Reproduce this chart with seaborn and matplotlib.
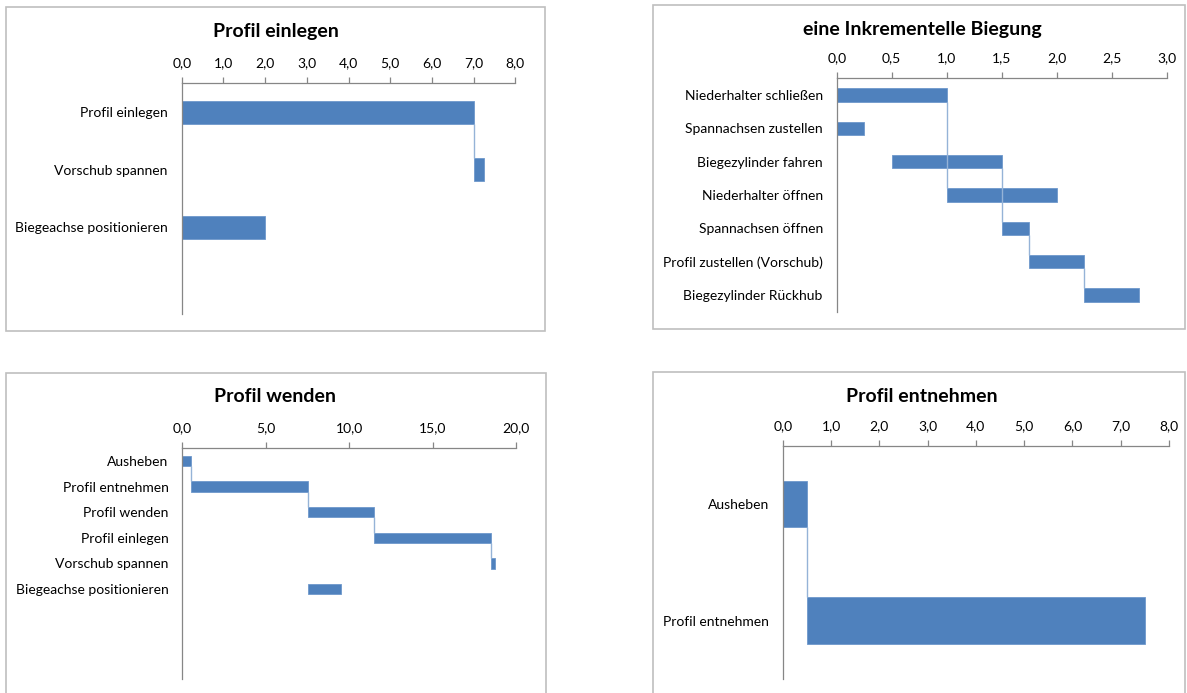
import numpy as np
import pandas as pd
import matplotlib
matplotlib.use("Agg")

import matplotlib.pyplot as plt
from matplotlib.patches import Rectangle
from matplotlib.ticker import MultipleLocator, FuncFormatter
import seaborn as sns

# data: start and duration per task
p1_tasks = ["Profil einlegen", "Vorschub spannen", "Biegeachse positionieren"]
p1_start = [0.0, 7.0, 0.0]
p1_dur = [7.0, 0.25, 2.0]

p2_tasks = ["Niederhalter schließen", "Spannachsen zustellen", "Biegezylinder fahren",
            "Niederhalter öffnen", "Spannachsen öffnen", "Profil zustellen (Vorschub)",
            "Biegezylinder Rückhub"]
p2_start = [0.0, 0.0, 0.5, 1.0, 1.5, 1.75, 2.25]
p2_dur = [1.0, 0.25, 1.0, 1.0, 0.25, 0.5, 0.5]

p3_tasks = ["Ausheben", "Profil entnehmen", "Profil wenden", "Profil einlegen",
            "Vorschub spannen", "Biegeachse positionieren"]
p3_start = [0.0, 0.5, 7.5, 11.5, 18.5, 7.5]
p3_dur = [0.5, 7.0, 4.0, 7.0, 0.25, 2.0]

p4_tasks = ["Ausheben", "Profil entnehmen"]
p4_start = [0.0, 0.5]
p4_dur = [0.5, 7.0]

BAR = "#4F81BD"
LINK = "#95B3D7"
GREY = "#868686"

sns.set_style("white")
plt.rcParams["font.family"] = ["Lato", "DejaVu Sans"]

W, H = 1187, 693
fig = plt.figure(figsize=(W / 100, H / 100), dpi=100)


def px_rect(x0, y0, x1, y1):
    return [x0 / W, 1 - y1 / H, (x1 - x0) / W, (y1 - y0) / H]


def gantt(ax, tasks, start, dur, n_slots, xmax, step):
    df = pd.DataFrame({"task": tasks, "start": start, "dur": dur})
    sns.barplot(data=df, x="dur", y="task", order=tasks, orient="h", width=0.4,
                color=BAR, saturation=1, errorbar=None, ax=ax,
                left=df["start"].to_numpy(), edgecolor="#6E98CC", linewidth=0.6)
    # connector from a task's end to the first later task starting there
    end = df["start"] + df["dur"]
    for j in range(len(df)):
        for i in range(j + 1, len(df)):
            if np.isclose(df["start"][i], end[j]):
                ax.plot([end[j], end[j]], [j + 0.2, i - 0.2], color=LINK,
                        lw=1.0, zorder=5, solid_capstyle="butt")
                break
    ax.set_ylim(n_slots - 0.5, -0.5)
    ax.set_xlim(0, xmax)
    ax.xaxis.set_major_locator(MultipleLocator(step))
    ax.xaxis.set_major_formatter(FuncFormatter(lambda v, p: f"{v:.1f}".replace(".", ",")))
    ax.xaxis.tick_top()
    ax.set_xlabel("")
    ax.set_ylabel("")
    for s in ["right", "bottom"]:
        ax.spines[s].set_visible(False)
    for s in ["top", "left"]:
        ax.spines[s].set_color(GREY)
        ax.spines[s].set_linewidth(0.9)
    ax.tick_params(axis="x", top=True, direction="out", length=4, width=0.9,
                   color=GREY, pad=6, labelsize=10, labelcolor="black")
    ax.tick_params(axis="y", left=False, pad=6.5, labelsize=10, labelcolor="black")
    ax.set_facecolor("none")


# panel frames (pixel layout)
for x0, y0, x1, y1 in [(6, 7, 545, 331), (653, 5, 1185, 329),
                       (6, 373, 546, 700), (653, 372, 1185, 700)]:
    fig.patches.append(Rectangle((x0 / W, 1 - y1 / H), (x1 - x0) / W, (y1 - y0) / H,
                                 transform=fig.transFigure, fill=False,
                                 edgecolor="#BFBFBF", linewidth=1.2))

ax1 = fig.add_axes(px_rect(181.7, 83.3, 515.3, 314))
gantt(ax1, p1_tasks, p1_start, p1_dur, 4, 8, 1.0)
ax2 = fig.add_axes(px_rect(836.7, 78.3, 1166.7, 311.7))
gantt(ax2, p2_tasks, p2_start, p2_dur, 7, 3, 0.5)
ax3 = fig.add_axes(px_rect(182.3, 448, 516.3, 679))
gantt(ax3, p3_tasks, p3_start, p3_dur, 9, 20, 5.0)
ax4 = fig.add_axes(px_rect(782.7, 445.7, 1169, 679))
gantt(ax4, p4_tasks, p4_start, p4_dur, 2, 8, 1.0)

titles = [("Profil einlegen", 275.5, 32), ("eine Inkrementelle Biegung", 922, 30),
          ("Profil wenden", 275.5, 397), ("Profil entnehmen", 922, 397)]
for t, x, y in titles:
    fig.text(x / W, 1 - y / H, t, ha="center", va="center", fontsize=14,
             fontweight="bold", color="black")

fig.savefig("out.png", dpi=100)
plt.close(fig)
